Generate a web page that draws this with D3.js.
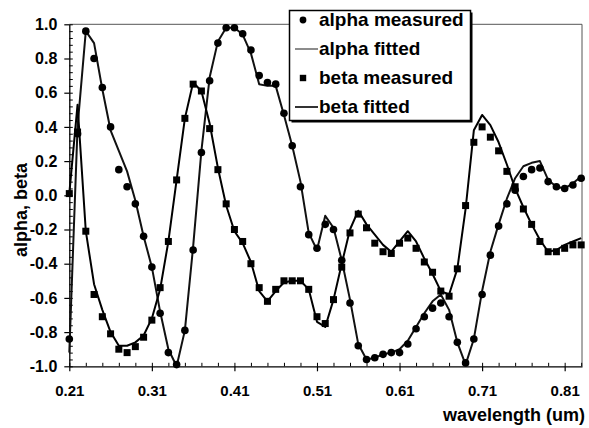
<!DOCTYPE html>
<html><head><meta charset="utf-8">
<script src="https://cdn.jsdelivr.net/npm/d3@7"></script>
<style>body{margin:0;background:#fff}</style>
</head><body>
<svg id="c" width="589" height="428"></svg>
<script>
const wavelength = [0.21,0.22,0.23,0.24,0.25,0.26,0.27,0.28,0.29,0.30,
  0.31,0.32,0.33,0.34,0.35,0.36,0.37,0.38,0.39,0.40,
  0.41,0.42,0.43,0.44,0.45,0.46,0.47,0.48,0.49,0.50,
  0.51,0.52,0.53,0.54,0.55,0.56,0.57,0.58,0.59,0.60,
  0.61,0.62,0.63,0.64,0.65,0.66,0.67,0.68,0.69,0.70,
  0.71,0.72,0.73,0.74,0.75,0.76,0.77,0.78,0.79,0.80,
  0.81,0.82,0.83];
const alphaMeasured = [-0.84,0.36,0.96,0.80,0.63,0.40,0.15,0.05,-0.05,-0.24,
  -0.42,-0.69,-0.92,-0.99,-0.79,-0.32,0.25,0.67,0.89,0.98,
  0.98,0.945,0.85,0.70,0.66,0.65,0.48,0.29,0.05,-0.23,
  -0.31,-0.17,-0.20,-0.38,-0.63,-0.88,-0.96,-0.95,-0.93,-0.92,
  -0.92,-0.87,-0.78,-0.71,-0.66,-0.63,-0.71,-0.86,-0.98,-0.84,
  -0.58,-0.35,-0.18,-0.05,0.03,0.11,0.15,0.16,0.08,0.05,
  0.04,0.06,0.10];
const alphaFitted = [-0.92,0.40,0.96,0.89,0.62,0.38,0.26,0.14,-0.03,-0.24,
  -0.42,-0.68,-0.90,-1.00,-0.79,-0.30,0.26,0.69,0.90,0.98,
  0.98,0.94,0.83,0.65,0.64,0.64,0.47,0.29,0.08,-0.22,
  -0.32,-0.12,-0.19,-0.38,-0.61,-0.87,-0.96,-0.95,-0.93,-0.92,
  -0.90,-0.85,-0.77,-0.69,-0.62,-0.58,-0.67,-0.86,-0.99,-0.84,
  -0.56,-0.33,-0.17,-0.02,0.10,0.17,0.19,0.20,0.09,0.05,
  0.04,0.07,0.11];
const betaMeasured = [0.01,0.37,-0.21,-0.58,-0.71,-0.81,-0.90,-0.92,-0.885,-0.83,
  -0.73,-0.54,-0.27,0.09,0.45,0.65,0.61,0.39,0.15,-0.05,
  -0.20,-0.27,-0.40,-0.54,-0.62,-0.55,-0.50,-0.50,-0.50,-0.55,
  -0.71,-0.75,-0.61,-0.42,-0.22,-0.11,-0.19,-0.28,-0.33,-0.34,
  -0.28,-0.25,-0.31,-0.39,-0.45,-0.56,-0.59,-0.43,-0.06,0.31,
  0.40,0.34,0.26,0.14,0.05,-0.08,-0.17,-0.27,-0.33,-0.33,
  -0.31,-0.29,-0.29];
const betaFitted = [0.01,0.53,-0.21,-0.52,-0.67,-0.80,-0.88,-0.88,-0.86,-0.82,
  -0.72,-0.55,-0.27,0.09,0.45,0.66,0.61,0.42,0.16,-0.06,
  -0.21,-0.28,-0.39,-0.56,-0.62,-0.56,-0.51,-0.50,-0.50,-0.55,
  -0.74,-0.77,-0.61,-0.40,-0.20,-0.09,-0.17,-0.23,-0.29,-0.33,
  -0.27,-0.21,-0.27,-0.37,-0.46,-0.56,-0.58,-0.43,-0.08,0.38,
  0.47,0.41,0.31,0.18,0.04,-0.07,-0.17,-0.26,-0.33,-0.32,
  -0.29,-0.27,-0.25];
const xTicks = [0.21,0.31,0.41,0.51,0.61,0.71,0.81];
const yTicks = [-1.0,-0.8,-0.6,-0.4,-0.2,0.0,0.2,0.4,0.6,0.8,1.0];
const legendLabels = ["alpha measured","alpha fitted","beta measured","beta fitted"];
const xTitle = "wavelength (um)";
const yTitle = "alpha, beta";

const FONT = "'Liberation Sans', Arial, Helvetica, sans-serif";
const svg = d3.select("#c");
const x = d3.scaleLinear().domain([0.21, 0.831]).range([69.3, 582]);
const y = d3.scaleLinear().domain([-1, 1]).range([366.3, 24.3]);

// frame (top & right)
svg.append("path")
  .attr("d", `M${x.range()[0]},${y(1)}H${x.range()[1]}V${y(-1)}`)
  .attr("fill","none").attr("stroke","#555").attr("stroke-width",1);

// minor ticks
const xMinor = d3.range(0.21, 0.832, 0.02);
const yMinor = d3.range(-1, 1.001, 0.04);
svg.append("g").attr("transform",`translate(0,${y(-1)})`)
  .call(d3.axisBottom(x).tickValues(xMinor).tickSize(-3.5).tickSizeOuter(0).tickFormat(""))
  .call(g=>g.select(".domain").remove())
  .selectAll("line").attr("stroke","#000");
svg.append("g").attr("transform",`translate(${x.range()[0]},0)`)
  .call(d3.axisLeft(y).tickValues(yMinor).tickSize(-3.5).tickSizeOuter(0).tickFormat(""))
  .call(g=>g.select(".domain").remove())
  .selectAll("line").attr("stroke","#000");

// major axes
const gx = svg.append("g").attr("transform",`translate(0,${y(-1)})`)
  .call(d3.axisBottom(x).tickValues(xTicks).tickSize(5).tickSizeOuter(0).tickPadding(14).tickFormat(d=>d.toFixed(2)));
gx.select(".domain").attr("stroke","#000").attr("stroke-width",1.3);
gx.selectAll("line").attr("stroke","#000").attr("stroke-width",1.2);
gx.selectAll("text").attr("font-family",FONT).attr("font-weight","bold").attr("font-size",15).attr("fill","#000");

const gy = svg.append("g").attr("transform",`translate(${x.range()[0]},0)`)
  .call(d3.axisLeft(y).tickValues(yTicks).tickSize(5).tickSizeOuter(0).tickPadding(7).tickFormat(d=>d.toFixed(1)));
gy.select(".domain").attr("stroke","#000").attr("stroke-width",1.3);
gy.selectAll("line").attr("stroke","#000").attr("stroke-width",1.2);
gy.selectAll("text").attr("font-family",FONT).attr("font-weight","bold").attr("font-size",16).attr("fill","#000");

// titles
svg.append("text").attr("x",585).attr("y",421).attr("text-anchor","end")
  .attr("font-family",FONT).attr("font-weight","bold").attr("font-size",18).text(xTitle);
svg.append("text").attr("transform","translate(27,210) rotate(-90)").attr("text-anchor","middle")
  .attr("font-family",FONT).attr("font-weight","bold").attr("font-size",18).text(yTitle);

// lines
const line = d3.line().x((d,i)=>x(wavelength[i])).y(d=>y(d));
svg.append("path").datum(alphaFitted).attr("d",line).attr("fill","none").attr("stroke","#111").attr("stroke-width",2).attr("stroke-linejoin","round");
svg.append("path").datum(betaFitted).attr("d",line).attr("fill","none").attr("stroke","#000").attr("stroke-width",2).attr("stroke-linejoin","round");

// markers
svg.append("g").selectAll("circle").data(alphaMeasured).join("circle")
  .attr("cx",(d,i)=>x(wavelength[i])).attr("cy",d=>y(d)).attr("r",3.8).attr("fill","#000");
const sq = 7;
svg.append("g").selectAll("rect").data(betaMeasured).join("rect")
  .attr("x",(d,i)=>x(wavelength[i])-sq/2).attr("y",d=>y(d)-sq/2).attr("width",sq).attr("height",sq).attr("fill","#000");

// legend
const L = {x0:289.5, y0:10.5, w:181, h:110};
svg.append("rect").attr("x",L.x0+2).attr("y",L.y0+2).attr("width",L.w).attr("height",L.h).attr("fill","#000");
svg.append("rect").attr("x",L.x0).attr("y",L.y0).attr("width",L.w).attr("height",L.h).attr("fill","#fff").attr("stroke","#000").attr("stroke-width",1.5);
const rowsY = [26,55,84,113];
legendLabels.forEach((lab,i)=>{
  const cy = rowsY[i]-6;
  if(i===0) svg.append("circle").attr("cx",303).attr("cy",cy).attr("r",3.4).attr("fill","#000");
  if(i===2) svg.append("rect").attr("x",303-3.2).attr("y",cy-3.2).attr("width",6.4).attr("height",6.4).attr("fill","#000");
  if(i===1) svg.append("line").attr("x1",295).attr("x2",318).attr("y1",cy).attr("y2",cy).attr("stroke","#666").attr("stroke-width",1.5);
  if(i===3) svg.append("line").attr("x1",295).attr("x2",318).attr("y1",cy).attr("y2",cy).attr("stroke","#000").attr("stroke-width",1.6);
  svg.append("text").attr("x",319).attr("y",rowsY[i]).attr("font-family",FONT).attr("font-weight","bold").attr("font-size",19).text(lab);
});
</script>
</body></html>
